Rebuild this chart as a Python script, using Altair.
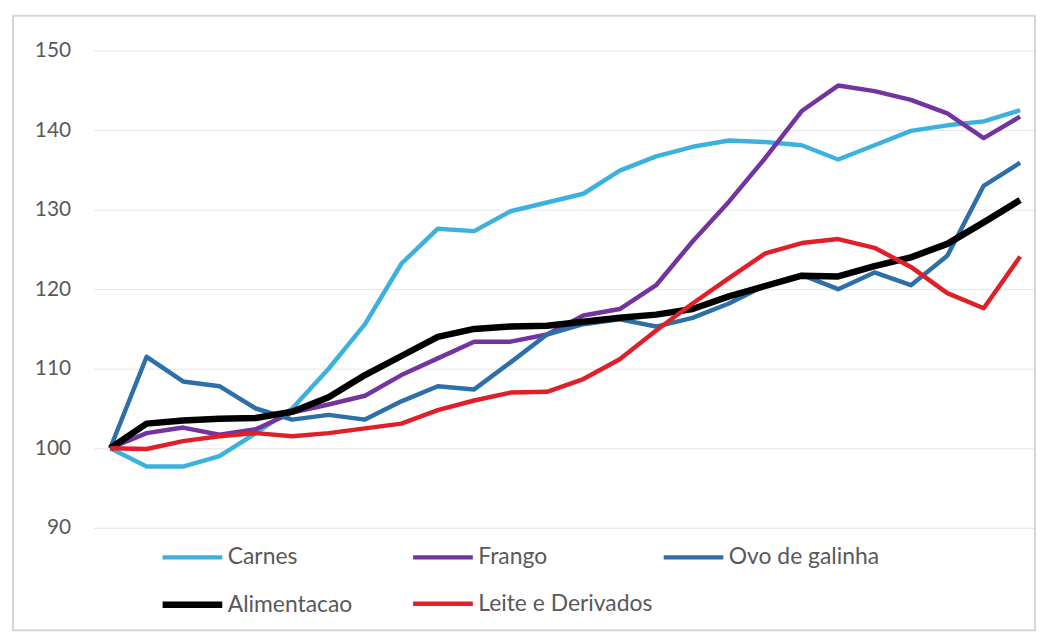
import altair as alt
import pandas as pd

periodos = list(range(26))
series = ["Carnes", "Frango", "Ovo de galinha", "Alimentacao", "Leite e Derivados"]
cores = ["#3DB1DD", "#7434A0", "#2C6FA9", "#000000", "#E11F28"]
larguras = [4.5, 4.5, 4.5, 6.5, 4.5]
# legend is filled column by column: this order gives rows "Carnes, Frango, Ovo" / "Alimentacao, Leite"
ordem_legenda = ["Carnes", "Alimentacao", "Frango", "Leite e Derivados", "Ovo de galinha"]

carnes = [100, 97.7, 97.7, 99.0, 101.9, 105.0, 110.0, 115.6, 123.2, 127.6, 127.3, 129.8, 130.9,
          132.0, 134.9, 136.7, 137.9, 138.7, 138.5, 138.1, 136.3, 138.1, 139.9, 140.6, 141.1, 142.5]
frango = [100, 101.9, 102.6, 101.7, 102.4, 104.5, 105.5, 106.6, 109.2, 111.3, 113.4, 113.4, 114.3,
          116.7, 117.5, 120.5, 126.0, 131.0, 136.5, 142.4, 145.6, 144.9, 143.8, 142.1, 139.0, 141.7]
ovo = [100, 111.5, 108.4, 107.8, 105.0, 103.6, 104.2, 103.6, 105.9, 107.8, 107.4, 110.8, 114.3,
       115.6, 116.2, 115.3, 116.4, 118.2, 120.5, 121.8, 120.0, 122.1, 120.5, 124.2, 133.0, 135.9]
alimentacao = [100, 103.1, 103.5, 103.7, 103.8, 104.6, 106.4, 109.2, 111.6, 114.0, 115.0, 115.3, 115.4,
               115.9, 116.4, 116.8, 117.5, 119.1, 120.4, 121.7, 121.6, 122.9, 124.0, 125.7, 128.4, 131.2]
leite = [100, 99.9, 100.9, 101.5, 101.9, 101.5, 101.9, 102.5, 103.1, 104.8, 106.0, 107.0, 107.1,
         108.7, 111.2, 114.8, 118.2, 121.4, 124.5, 125.8, 126.3, 125.2, 122.8, 119.5, 117.6, 124.1]
y_ticks = [90, 100, 110, 120, 130, 140, 150]

valores = [carnes, frango, ovo, alimentacao, leite]
rows = []
for nome, vals in zip(series, valores):
    for p, v in zip(periodos, vals):
        rows.append({"periodo": p, "valor": v, "serie": nome})
df = pd.DataFrame(rows)

cor_map = dict(zip(series, cores))
larg_map = dict(zip(series, larguras))

FONT = "Lato"

frame = alt.Chart(pd.DataFrame({"k": [0]})).mark_rect(
    fill="white", fillOpacity=0, stroke="#D6D6D6", strokeWidth=2
).encode(
    x=alt.value(-81), x2=alt.value(947), y=alt.value(-35), y2=alt.value(583)
)

lines = alt.Chart(df).mark_line(strokeJoin="round", strokeCap="butt").encode(
    x=alt.X("periodo:Q", scale=alt.Scale(domain=[-0.46, 25.41], nice=False, zero=False), axis=None),
    y=alt.Y("valor:Q", scale=alt.Scale(domain=[90, 150], nice=False, zero=False),
            axis=alt.Axis(values=y_ticks, title=None, domain=False, ticks=False,
                          labelPadding=23, labelFontSize=21, labelColor="#595959",
                          labelFont=FONT, gridColor="#E4E4E4", gridWidth=1)),
    color=alt.Color("serie:N", sort=ordem_legenda,
                    scale=alt.Scale(domain=ordem_legenda, range=[cor_map[s] for s in ordem_legenda]),
                    legend=alt.Legend(title=None)),
    strokeWidth=alt.StrokeWidth("serie:N", sort=ordem_legenda,
                                scale=alt.Scale(type="ordinal", domain=ordem_legenda,
                                                range=[larg_map[s] for s in ordem_legenda]),
                                legend=alt.Legend(title=None)),
    order=alt.Order("periodo:Q"),
)

chart = alt.layer(frame, lines).properties(
    width=947, height=480,
    padding={"left": 4, "top": 5, "right": 0, "bottom": 0},
).configure_view(stroke=None).configure_legend(
    orient="none", legendX=66, legendY=476, columns=3, gridAlign="all",
    symbolType="stroke", symbolSize=3600,
    labelFont=FONT, labelFontSize=23, labelColor="#595959", labelOffset=2, labelLimit=400,
    columnPadding=1, rowPadding=1, padding=0,
)

chart.save("out.html", embed_options={"renderer": "svg", "actions": False})
